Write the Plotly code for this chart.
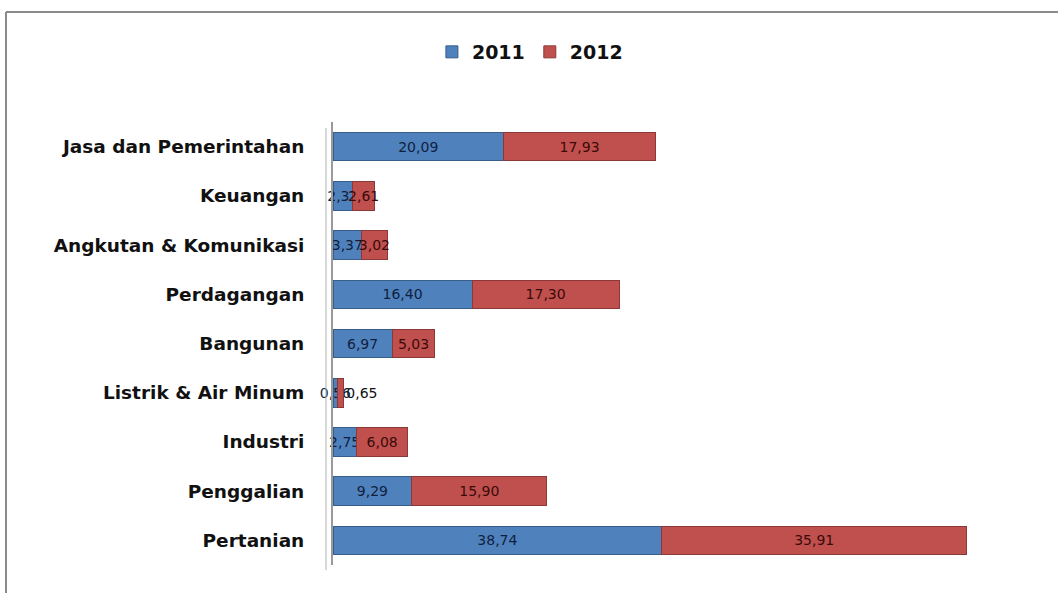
import plotly.graph_objects as go

categories = ["Pertanian", "Penggalian", "Industri", "Listrik & Air Minum", "Bangunan",
              "Perdagangan", "Angkutan & Komunikasi", "Keuangan", "Jasa dan Pemerintahan"]
v2011 = [38.74, 9.29, 2.75, 0.56, 6.97, 16.40, 3.37, 2.31, 20.09]
v2012 = [35.91, 15.90, 6.08, 0.65, 5.03, 17.30, 3.02, 2.61, 17.93]

W, H = 1058, 593
L, R, T, B = 333, 46, 122, 28
pw, ph = W - L - R, H - T - B

def px_x(p):
    return (p - L) / pw

def px_y(p):
    return (H - B - p) / ph

pos2012 = ["outside" if v < 1 else "inside" for v in v2012]

fig = go.Figure()
fig.add_trace(go.Bar(
    y=categories, x=v2011, name="2011", orientation="h",
    marker=dict(color="#4F81BD", line=dict(color="#385D8A", width=1)),
    texttemplate="%{x:.2f}", textposition="inside", insidetextanchor="middle",
    textangle=0, constraintext="none", cliponaxis=False,
    textfont=dict(color="#0F1F3D", size=14, family="DejaVu Sans"),
))
fig.add_trace(go.Bar(
    y=categories, x=v2012, name="2012", orientation="h",
    marker=dict(color="#C0504D", line=dict(color="#8C3836", width=1)),
    texttemplate="%{x:.2f}", textposition=pos2012, insidetextanchor="middle",
    textangle=0, constraintext="none", cliponaxis=False,
    textfont=dict(color="#3A0A0A", size=14, family="DejaVu Sans"),
    outsidetextfont=dict(color="#111111", size=14, family="DejaVu Sans"),
))

fig.update_layout(
    width=W, height=H,
    barmode="stack", bargap=0.42,
    separators=",.",
    paper_bgcolor="white", plot_bgcolor="white",
    margin=dict(l=L, r=R, t=T, b=B, autoexpand=False),
    font=dict(family="DejaVu Sans", color="#111111"),
    legend=dict(orientation="h", x=0.29, xanchor="center", y=px_y(52), yanchor="middle",
                font=dict(size=19, family="DejaVu Sans", weight="bold"),
                traceorder="normal", itemwidth=30),
    xaxis=dict(range=[0, 80], showgrid=False, showticklabels=False, zeroline=False,
               showline=False, fixedrange=True),
    yaxis=dict(categoryorder="array", categoryarray=categories, showgrid=False,
               showline=True, linecolor="#9A9A9A", linewidth=2,
               ticks="", ticklabelstandoff=23,
               tickfont=dict(size=18.5, family="DejaVu Sans", weight="bold", color="#111111")),
    shapes=[
        dict(type="line", xref="paper", yref="paper", x0=px_x(6), x1=px_x(1060),
             y0=px_y(12), y1=px_y(12), line=dict(color="#8A8A8A", width=2)),
        dict(type="line", xref="paper", yref="paper", x0=px_x(6), x1=px_x(6),
             y0=px_y(12), y1=px_y(600), line=dict(color="#8A8A8A", width=2)),
        dict(type="line", xref="paper", yref="paper", x0=px_x(326), x1=px_x(326),
             y0=px_y(128), y1=px_y(570), line=dict(color="#B0B0B0", width=1)),
    ],
)

fig.write_html("out.html")
